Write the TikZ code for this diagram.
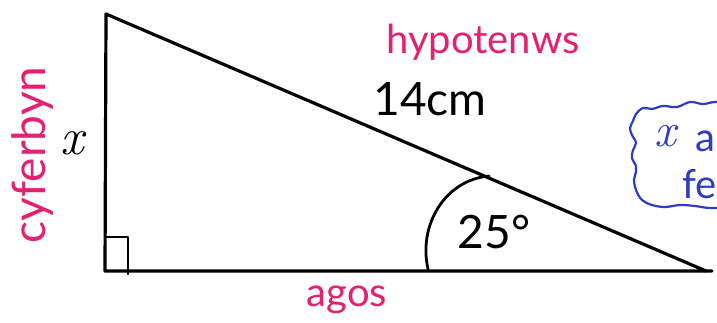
\documentclass[tikz,border=0pt]{standalone}
\usepackage{fontspec}
\setmainfont{Lato}
\newfontfamily\lmr{Latin Modern Roman}
\definecolor{pinkc}{RGB}{228,32,112}
\definecolor{bluec}{RGB}{45,60,195}
\begin{document}
\begin{tikzpicture}[x=1pt,y=-1pt,line cap=round,line join=round,
  edge/.style={line width=3.2pt,black},
  lbl/.style={inner sep=0pt,font=\fontsize{#1}{#1}\selectfont},
  pinklbl/.style={lbl=#1,text=pinkc},
  bluelbl/.style={lbl=#1,text=bluec}]
\useasboundingbox (0,0) rectangle (717,322);
\fill[white] (0,0) rectangle (717,322);
% triangle
\coordinate (A) at (106,14);
\coordinate (B) at (105,271);
\coordinate (C) at (706,271);
\coordinate (Cx) at (712,271);
\draw[edge] (A) -- (B) -- (Cx);
\draw[edge] (A) -- (C);
% right angle mark
\coordinate (R1) at (105,237);
\coordinate (R2) at (128,237);
\coordinate (R3) at (128,274);
\draw[line width=2.8pt] (R1) -- (R2) -- (R3);
% angle arc
\coordinate (P1) at (428,269);
\coordinate (P2) at (489,176);
\draw[line width=2.8pt] (P1) .. controls (418,225) and (445,180) .. (P2);
% labels
\node[pinklbl=40] (hyp) at (483,42) {hypotenws};
\node[lbl=46] (len) at (430,99) {14cm};
\node[lbl=46] (ang) at (494,232) {25°};
\node[pinklbl=40] (agos) at (347,300) {agos};
\node[pinklbl=46,rotate=90] (opp) at (33,155) {cyferbyn};
\node[lbl=52] (x) at (72,143) {\lmr\itshape x};
% blue cloud (cut off at right edge)
\begin{scope}
\clip (0,0) rectangle (717,322);
\draw[bluec,line width=2.2pt] plot[smooth,tension=0.6] coordinates {
 (730,104) (715,102) (703,104) (690,102) (677,107) (663,106) (652,109)
 (643,108) (636,114) (633,121) (630,128) (632,135) (636,143) (633,150)
 (632,158) (636,166) (636,172) (634,180) (636,190) (642,200) (652,205)
 (665,207) (680,205) (695,206) (710,208) (730,207)};
\node[bluelbl=48] (cx) at (665,136) {\lmr\itshape x};
\node[bluelbl=40,anchor=west] (ca) at (695,141) {a};
\node[bluelbl=40,anchor=west] (cf) at (682,184) {fe};
\end{scope}
\end{tikzpicture}
\end{document}
